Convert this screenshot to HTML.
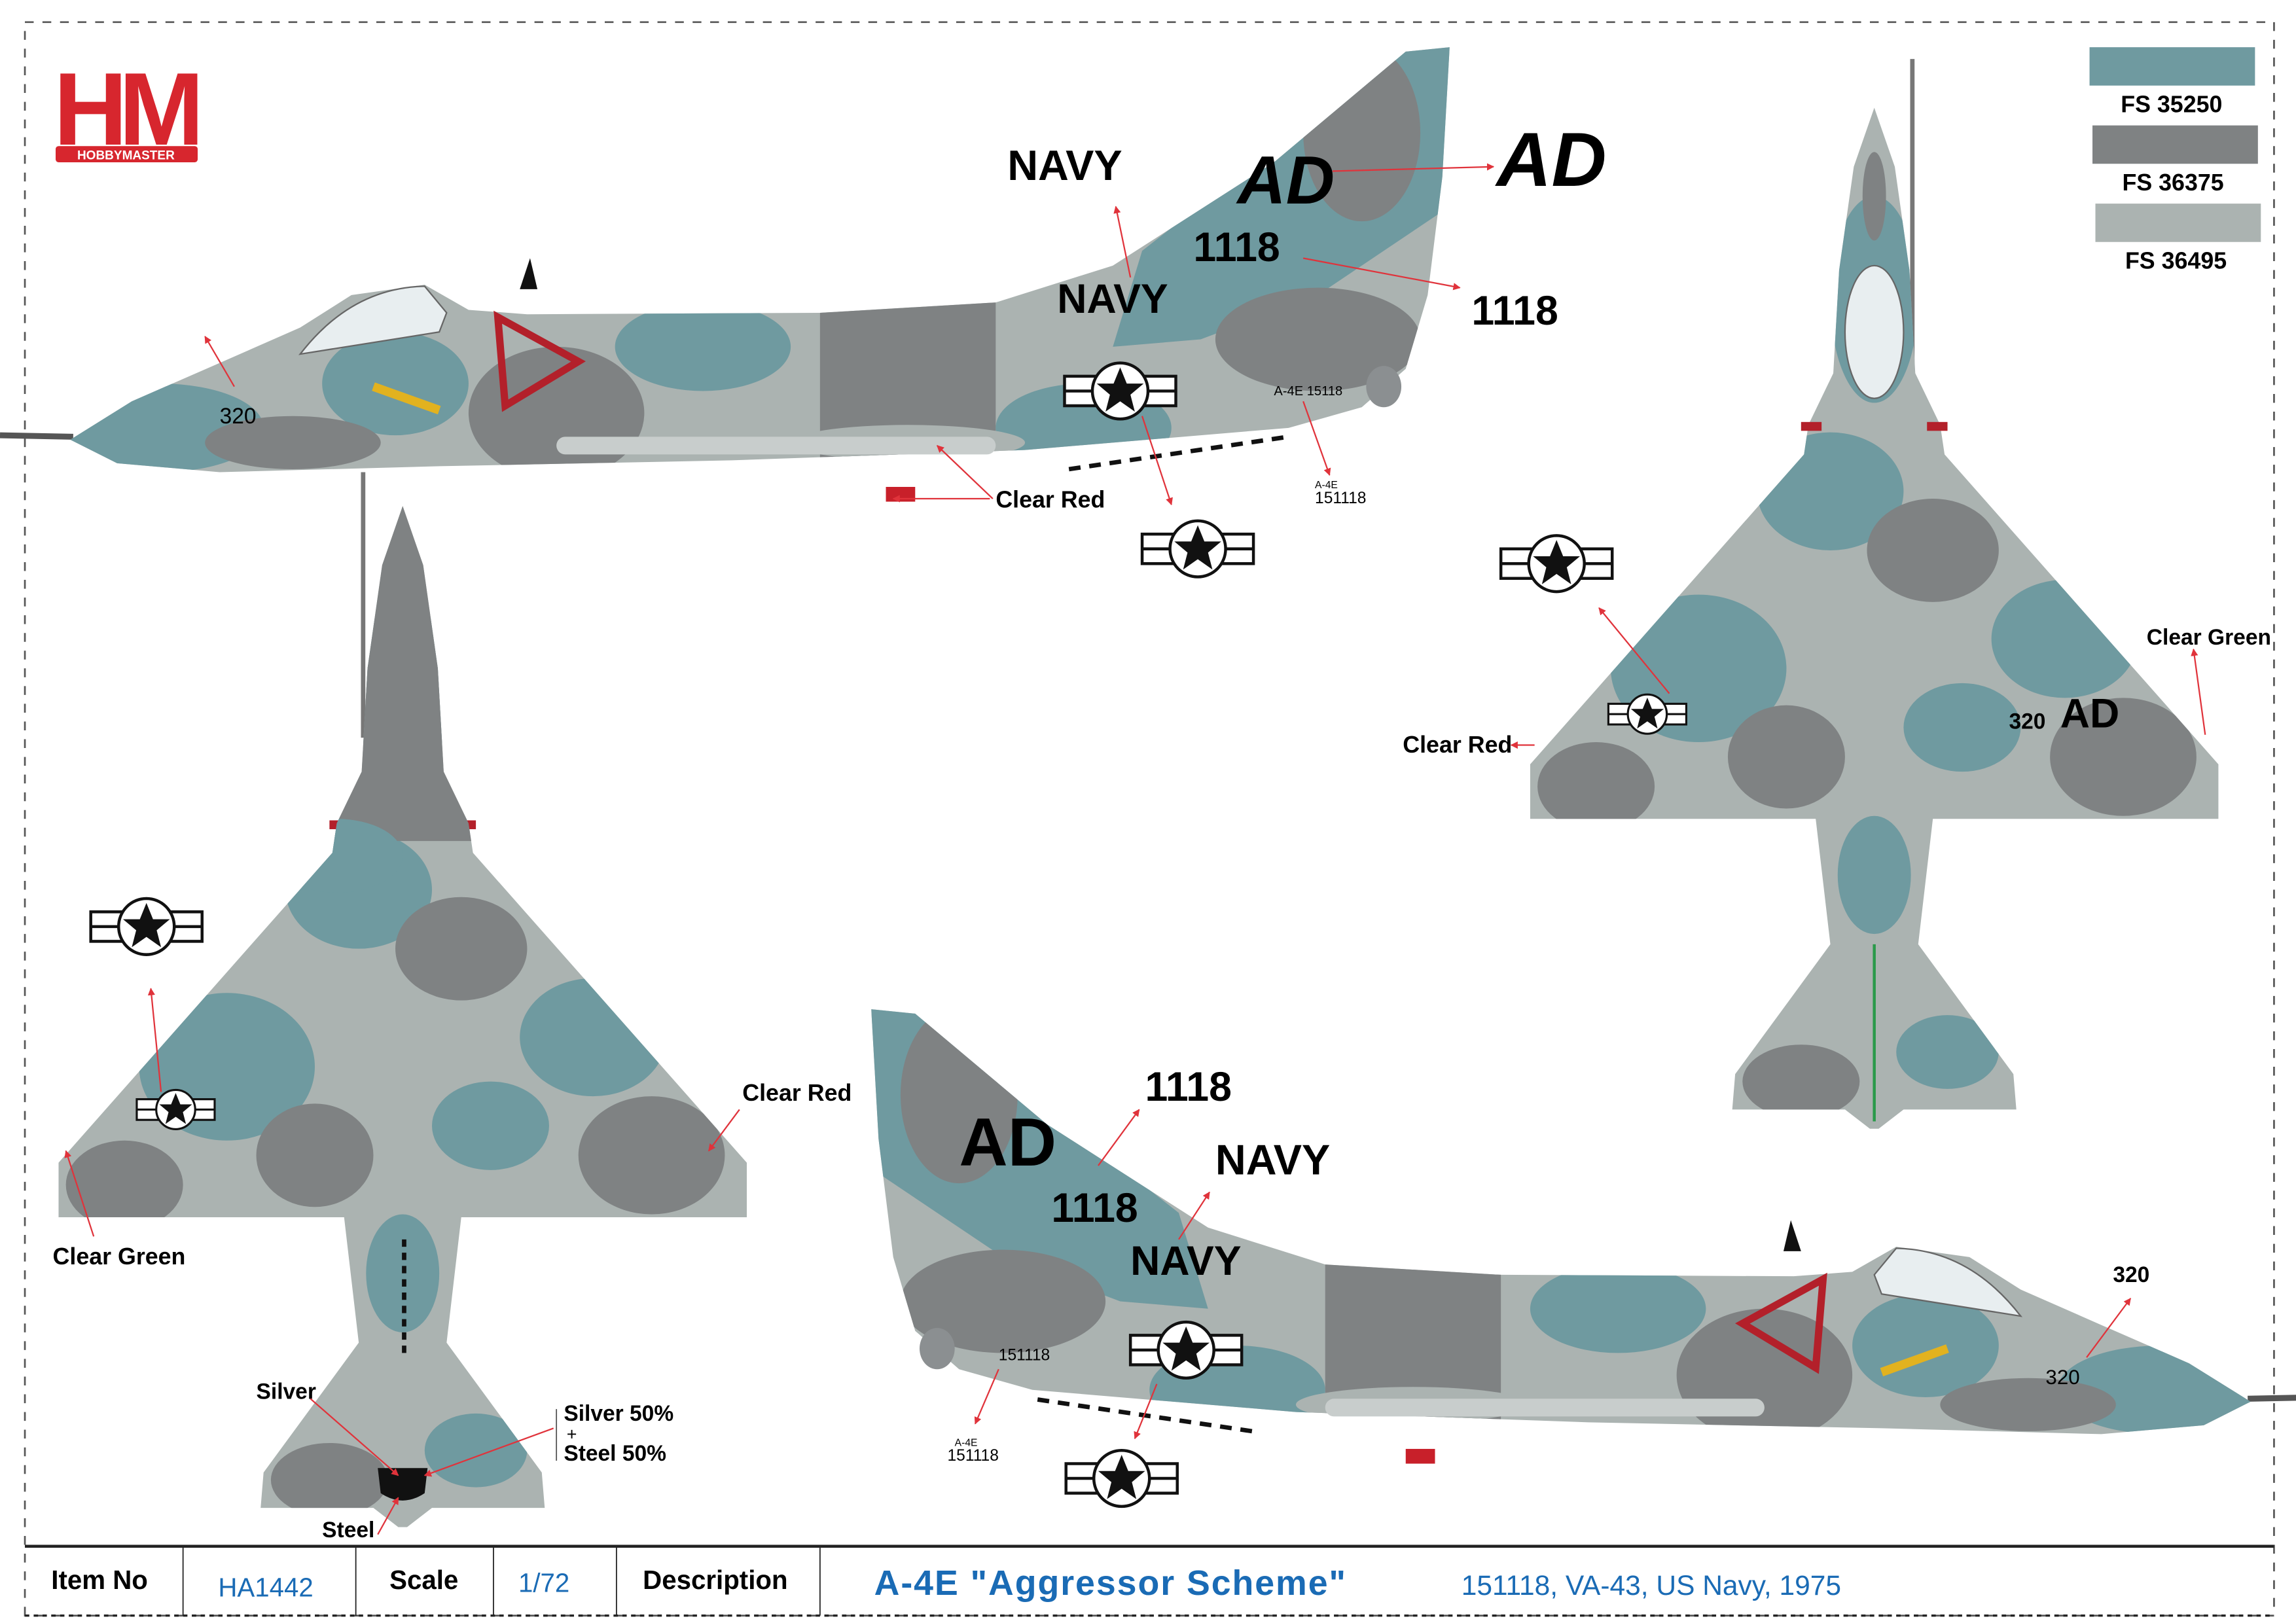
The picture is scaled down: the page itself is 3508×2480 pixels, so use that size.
<!DOCTYPE html>
<html><head><meta charset="utf-8"><style>
html,body{margin:0;padding:0;background:#fff;}
svg{display:block;}
text{font-family:"Liberation Sans","DejaVu Sans",sans-serif;}
</style></head><body>
<svg width="3508" height="2480" viewBox="0 0 1568 1100" preserveAspectRatio="none" xmlns="http://www.w3.org/2000/svg">
<defs>
<marker id="ah" viewBox="0 0 10 10" refX="9" refY="5" markerWidth="5" markerHeight="5" orient="auto"><path d="M0,0L10,5L0,10z" fill="#e0333b"/></marker>
<path id="side" d="M48,298 L90,272 L150,246 L205,222 L240,200 L290,193 L320,210 L360,213 L560,212 L680,205 L760,180 L870,110 L960,35 L990,32 L985,120 L975,200 L960,250 L930,276 L880,290 L700,305 L500,312 L300,316 L150,320 L80,314 Z"/>
<clipPath id="sideclip"><use href="#side"/></clipPath>
<path id="plan" d="M0,0 L14,40 L24,110 L28,180 L45,215 L48,235 L235,445 L235,482 L40,482 L30,567 L95,655 L97,679 L20,679 L3,692 L-3,692 L-20,679 L-97,679 L-95,655 L-30,567 L-40,482 L-235,482 L-235,445 L-48,235 L-45,215 L-28,180 L-24,110 L-14,40 Z"/>
<clipPath id="planclip"><use href="#plan"/></clipPath>
<clipPath id="planclipB"><use href="#plan" transform="translate(275,343)"/></clipPath>
<g id="roundel">
<rect x="-38" y="-10" width="76" height="20" fill="#fff" stroke="#111" stroke-width="2"/>
<line x1="-38" y1="0" x2="38" y2="0" stroke="#111" stroke-width="2"/>
<circle r="19" fill="#fff" stroke="#111" stroke-width="2"/>
<path d="M0,-16 L4.5,-5 L16,-5 L7,2.5 L10,14 L0,7 L-10,14 L-7,2.5 L-16,-5 L-4.5,-5 Z" fill="#111"/>
</g>
<g id="sideac">
<line x1="0" y1="295" x2="50" y2="296" stroke="#555" stroke-width="4"/>
<path d="M355,196 L362,175 L367,196Z" fill="#111"/>
<use href="#side" fill="#abb3b1"/>
<g clip-path="url(#sideclip)">
<ellipse cx="110" cy="290" rx="70" ry="30" fill="#6f9aa0"/>
<ellipse cx="270" cy="260" rx="50" ry="35" fill="#6f9aa0"/>
<ellipse cx="380" cy="280" rx="60" ry="45" fill="#7f8283"/>
<ellipse cx="480" cy="235" rx="60" ry="30" fill="#6f9aa0"/>
<rect x="560" y="205" width="120" height="110" fill="#7f8283"/>
<ellipse cx="740" cy="290" rx="60" ry="30" fill="#6f9aa0"/>
<path d="M780,170 L960,30 L990,30 L990,140 L900,200 L820,230 L760,235Z" fill="#6f9aa0"/>
<ellipse cx="930" cy="90" rx="40" ry="60" fill="#7f8283"/>
<ellipse cx="900" cy="230" rx="70" ry="35" fill="#7f8283"/>
<ellipse cx="200" cy="300" rx="60" ry="18" fill="#7f8283"/>
<ellipse cx="620" cy="300" rx="80" ry="12" fill="#abb3b1"/>
</g>
<path d="M205,240 Q240,195 290,194 L305,212 L300,225 Z" fill="#e8eef0" stroke="#666" stroke-width="1"/>
<path d="M340,215 L395,245 L345,275 Z" fill="none" stroke="#b3202a" stroke-width="5"/>
<path d="M255,262 L300,278" stroke="#e2b21f" stroke-width="6"/>
<ellipse cx="945" cy="262" rx="12" ry="14" fill="#8b8f91"/>
<rect x="605" y="330" width="20" height="10" fill="#c8202a"/>
<line x1="730" y1="318" x2="880" y2="296" stroke="#111" stroke-width="3" stroke-dasharray="8,6"/>
<rect x="380" y="296" width="300" height="12" rx="6" fill="#c8cdcc"/>
</g>
<g id="planac">
<use href="#plan" fill="#abb3b1"/>
<g clip-path="url(#planclip)">
<ellipse cx="0" cy="130" rx="30" ry="70" fill="#6f9aa0"/>
<ellipse cx="-30" cy="260" rx="50" ry="40" fill="#6f9aa0"/>
<ellipse cx="40" cy="300" rx="45" ry="35" fill="#7f8283"/>
<ellipse cx="-120" cy="380" rx="60" ry="50" fill="#6f9aa0"/>
<ellipse cx="130" cy="360" rx="50" ry="40" fill="#6f9aa0"/>
<ellipse cx="-60" cy="440" rx="40" ry="35" fill="#7f8283"/>
<ellipse cx="170" cy="440" rx="50" ry="40" fill="#7f8283"/>
<ellipse cx="-190" cy="460" rx="40" ry="30" fill="#7f8283"/>
<ellipse cx="60" cy="420" rx="40" ry="30" fill="#6f9aa0"/>
<ellipse cx="0" cy="520" rx="25" ry="40" fill="#6f9aa0"/>
<ellipse cx="-50" cy="660" rx="40" ry="25" fill="#7f8283"/>
<ellipse cx="50" cy="640" rx="35" ry="25" fill="#6f9aa0"/>
<ellipse cx="0" cy="60" rx="8" ry="30" fill="#7f8283"/>
</g>
<rect x="-50" y="213" width="14" height="6" fill="#b3202a"/>
<rect x="36" y="213" width="14" height="6" fill="#b3202a"/>
</g>
</defs>

<rect x="0" y="0" width="1568" height="1100" fill="#fff"/>
<rect x="17" y="15" width="1536" height="1080" fill="none" stroke="#555" stroke-width="1.2" stroke-dasharray="6,6"/>

<g>
<text x="85" y="98" text-anchor="middle" font-size="70" font-weight="bold" fill="#d7262e" letter-spacing="-6">HM</text>
<rect x="38" y="99" width="97" height="11" rx="2" fill="#d7262e"/>
<text x="86" y="108" text-anchor="middle" font-size="8.5" font-weight="bold" fill="#fff">HOBBYMASTER</text>
</g>

<rect x="1427" y="32" width="113" height="26" fill="#6f9aa0"/>
<text x="1483" y="76" text-anchor="middle" font-size="16" font-weight="bold">FS 35250</text>
<rect x="1429" y="85" width="113" height="26" fill="#7f8283"/>
<text x="1484" y="129" text-anchor="middle" font-size="16" font-weight="bold">FS 36375</text>
<rect x="1431" y="138" width="113" height="26" fill="#abb3b1"/>
<text x="1486" y="182" text-anchor="middle" font-size="16" font-weight="bold">FS 36495</text>

<use href="#sideac"/>
<text x="845" y="138" font-size="46" font-weight="bold" font-style="italic">AD</text>
<text x="815" y="177" font-size="28" font-weight="bold">1118</text>
<text x="722" y="212" font-size="28" font-weight="bold">NAVY</text>
<text x="150" y="287" font-size="15">320</text>
<use href="#roundel" transform="translate(765,265) scale(1)"/>
<text x="870" y="268" font-size="9">A-4E 15118</text>
<text x="688" y="122" font-size="29" font-weight="bold">NAVY</text>
<text x="1022" y="126" font-size="52" font-weight="bold" font-style="italic">AD</text>
<text x="1005" y="220" font-size="28" font-weight="bold">1118</text>
<text x="680" y="344" font-size="16" font-weight="bold">Clear Red</text>
<use href="#roundel" transform="translate(818,372)"/>
<text x="898" y="331" font-size="7">A-4E</text>
<text x="898" y="341" font-size="11">151118</text>
<g stroke="#e0333b" stroke-width="1" fill="none" marker-end="url(#ah)">
<line x1="772" y1="188" x2="762" y2="140"/>
<line x1="910" y1="116" x2="1020" y2="113"/>
<line x1="890" y1="175" x2="997" y2="195"/>
<line x1="890" y1="272" x2="908" y2="322"/>
<line x1="780" y1="282" x2="800" y2="342"/>
<line x1="678" y1="338" x2="640" y2="302"/>
<line x1="676" y1="338" x2="610" y2="338"/>
<line x1="160" y1="262" x2="140" y2="228"/>
</g>

<use href="#sideac" transform="translate(1585,652) scale(-1,1)"/>
<text x="655" y="790" font-size="46" font-weight="bold">AD</text>
<text x="718" y="828" font-size="28" font-weight="bold">1118</text>
<text x="772" y="864" font-size="28" font-weight="bold">NAVY</text>
<text x="1397" y="938" font-size="14">320</text>
<use href="#roundel" transform="translate(810,915)"/>
<text x="682" y="922" font-size="11">151118</text>
<text x="782" y="746" font-size="28" font-weight="bold">1118</text>
<text x="830" y="796" font-size="29" font-weight="bold">NAVY</text>
<text x="1443" y="869" font-size="15" font-weight="bold">320</text>
<use href="#roundel" transform="translate(766,1002)"/>
<text x="652" y="980" font-size="7">A-4E</text>
<text x="647" y="990" font-size="11">151118</text>
<g stroke="#e0333b" stroke-width="1" fill="none" marker-end="url(#ah)">
<line x1="750" y1="790" x2="778" y2="752"/>
<line x1="805" y1="840" x2="826" y2="808"/>
<line x1="1425" y1="920" x2="1455" y2="880"/>
<line x1="682" y1="928" x2="666" y2="965"/>
<line x1="790" y1="938" x2="775" y2="975"/>
</g>

<line x1="1306" y1="40" x2="1306" y2="290" stroke="#777" stroke-width="3"/>
<use href="#planac" transform="translate(1280,73)"/>
<ellipse cx="1280" cy="225" rx="20" ry="45" fill="#e8eef0" stroke="#666"/>
<line x1="1280" y1="640" x2="1280" y2="760" stroke="#2a9a4a" stroke-width="2"/>
<use href="#roundel" transform="translate(1063,382)"/>
<use href="#roundel" transform="translate(1125,484) scale(0.7)"/>
<text x="1372" y="494" font-size="15" font-weight="bold">320</text>
<text x="1407" y="493" font-size="28" font-weight="bold">AD</text>
<text x="1466" y="437" font-size="15" font-weight="bold">Clear Green</text>
<text x="958" y="510" font-size="16" font-weight="bold">Clear Red</text>
<g stroke="#e0333b" stroke-width="1" fill="none" marker-end="url(#ah)">
<line x1="1140" y1="470" x2="1092" y2="412"/>
<line x1="1048" y1="505" x2="1032" y2="505"/>
<line x1="1506" y1="498" x2="1498" y2="440"/>
</g>

<line x1="248" y1="320" x2="248" y2="500" stroke="#777" stroke-width="3"/>
<use href="#planac" transform="translate(275,343)"/>
<g clip-path="url(#planclipB)">
<rect x="200" y="340" width="150" height="230" fill="#7f8283"/>
<ellipse cx="230" cy="580" rx="45" ry="25" fill="#6f9aa0"/>
</g>
<path d="M258,995 L292,995 L290,1012 Q275,1022 260,1012Z" fill="#111"/>
<line x1="276" y1="840" x2="276" y2="920" stroke="#111" stroke-width="3" stroke-dasharray="5,4"/>
<use href="#roundel" transform="translate(100,628)"/>
<use href="#roundel" transform="translate(120,752) scale(0.7)"/>
<text x="507" y="746" font-size="16" font-weight="bold">Clear Red</text>
<text x="36" y="857" font-size="16" font-weight="bold">Clear Green</text>
<text x="175" y="948" font-size="15" font-weight="bold">Silver</text>
<text x="385" y="963" font-size="15" font-weight="bold">Silver 50%</text>
<text x="387" y="976" font-size="12">+</text>
<text x="385" y="990" font-size="15" font-weight="bold">Steel 50%</text>
<text x="220" y="1042" font-size="15" font-weight="bold">Steel</text>
<line x1="380" y1="955" x2="380" y2="990" stroke="#555" stroke-width="0.8"/>
<g stroke="#e0333b" stroke-width="1" fill="none" marker-end="url(#ah)">
<line x1="110" y1="740" x2="103" y2="670"/>
<line x1="505" y1="752" x2="484" y2="780"/>
<line x1="64" y1="838" x2="45" y2="780"/>
<line x1="212" y1="948" x2="272" y2="1000"/>
<line x1="378" y1="968" x2="290" y2="1000"/>
<line x1="258" y1="1040" x2="272" y2="1015"/>
</g>

<line x1="17" y1="1048" x2="1553" y2="1048" stroke="#222" stroke-width="2"/>
<g stroke="#222" stroke-width="0.8">
<line x1="125" y1="1048" x2="125" y2="1095"/>
<line x1="243" y1="1048" x2="243" y2="1095"/>
<line x1="337" y1="1048" x2="337" y2="1095"/>
<line x1="421" y1="1048" x2="421" y2="1095"/>
<line x1="560" y1="1048" x2="560" y2="1095"/>
</g>
<line x1="17" y1="1095" x2="1553" y2="1095" stroke="#222" stroke-width="1.5" stroke-dasharray="3,3"/>
<text x="35" y="1077" font-size="18" font-weight="bold">Item No</text>
<text x="149" y="1082" font-size="18" fill="#1a6bb5">HA1442</text>
<text x="266" y="1077" font-size="18" font-weight="bold">Scale</text>
<text x="354" y="1079" font-size="18" fill="#1a6bb5">1/72</text>
<text x="439" y="1077" font-size="18" font-weight="bold">Description</text>
<text x="597" y="1081" font-size="24" font-weight="bold" fill="#1a6bb5" textLength="322">A-4E "Aggressor Scheme"</text>
<text x="998" y="1081" font-size="19" fill="#1a6bb5">151118, VA-43, US Navy, 1975</text>
</svg>
</body></html>
